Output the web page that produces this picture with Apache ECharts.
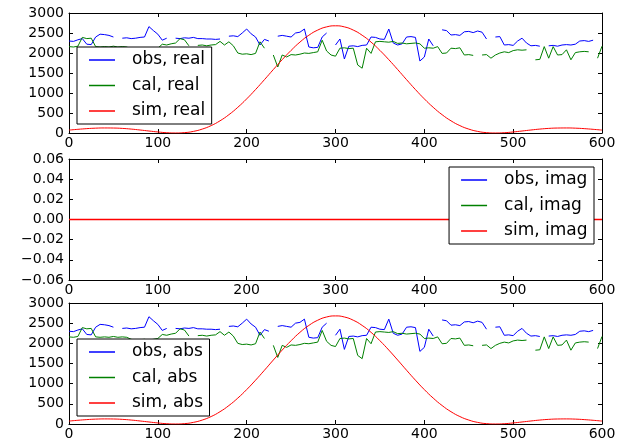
<!DOCTYPE html>
<html>
<head>
<meta charset="utf-8">
<script src="https://cdn.jsdelivr.net/npm/echarts@6/dist/echarts.min.js"></script>
<style>
html,body{margin:0;padding:0;background:#fff;}
#chart{width:621px;height:448px;}
</style>
</head>
<body>
<div id="chart"></div>
<script>
// x grid for obs / cal samples (step 5, 0..600)
const obsCalStep = 5;
const obsValues = [
  2300,2290,2330,2360,2220,2210,2400,2470,2460,2440,2400,null,
  2370,2380,2360,2370,2390,2400,2660,2560,2470,2320,2370,null,
  2370,2360,2380,2370,2390,2360,2360,2350,2350,2340,2350,null,
  2420,2430,2410,2500,2600,2480,2400,2200,2340,2300,null,2420,
  2440,2420,2400,2500,2520,2600,2150,2130,2140,2400,2500,null,
  2200,2350,1850,2170,2180,2160,2190,2200,2400,2390,2350,2340,
  2600,2250,2200,2230,2400,2410,2390,1800,1900,2350,2180,null,
  2580,2560,2450,2460,2440,2530,2540,2510,2550,2520,2350,null,
  2400,2410,2200,2210,2190,2300,2370,2250,2180,2190,2170,null,
  2180,2190,2170,2200,2210,2200,2220,2300,2310,2290,2320,null,null
];
const calValues = [
  2160,2150,2170,2390,2360,2370,2160,2150,2160,2150,2170,2150,
  2160,2150,2100,2080,2090,2100,2080,2100,2120,2220,2200,2230,
  2250,2360,2330,2180,null,2190,2200,2180,2200,2210,2290,2200,
  2280,2180,2000,1970,1980,1960,1990,2280,2120,null,1950,1650,
  1950,1900,1960,1950,1970,2000,1990,2010,2030,2320,2050,1950,
  1920,2120,2130,2110,2120,1700,1620,2120,1990,2280,2290,2280,
  2270,2290,2240,2250,2230,2240,2250,2230,2120,2130,2120,2160,
  1990,2000,2120,2110,2130,1950,1960,1940,null,1950,1960,1870,
  1950,2000,2030,2010,2060,2080,2070,2080,null,1830,1840,2160,
  1870,2160,1950,1960,2080,1830,2010,2030,2040,2030,null,1870,2170
];
// sim samples (step 10, 0..600)
const simStep = 10;
const simValues = [
  73,92,109,121,126,124,115,98,75,50,26,7,0,9,40,98,185,305,458,642,853,
  1086,1333,1586,1833,2065,2273,2444,2573,2653,2680,2653,2573,2444,2273,2065,
  1833,1586,1333,1086,853,642,458,305,185,98,40,9,0,7,26,50,75,98,115,124,
  126,121,109,92,73
];
// imaginary parts (all zero)
const imagX = [0,100,200,300,400,500,600];
const obsImag = [0,0,0,0,0,0,0];
const calImag = [0,0,0,0,0,0,0];
const simImag = [0,0,0,0,0,0,0];

const xTicks = [0,100,200,300,400,500,600];
const absTicks = [0,500,1000,1500,2000,2500,3000];
const imagTicks = [-0.06,-0.04,-0.02,0,0.02,0.04,0.06];

function pairs(step, vals){ return vals.map((v,i)=>[i*step, v===null?'-':v]); }
function pairsX(xs, vals){ return vals.map((v,i)=>[xs[i], v]); }

const FONT = 'DejaVu Sans';
const grids = [
  {left:69, top:13, width:533, height:120},
  {left:69, top:159, width:533, height:121},
  {left:69, top:303, width:533, height:121}
];

const xAxes = [], yAxes = [];
grids.forEach((g,i)=>{
  const base = {
    type:'value', gridIndex:i, min:xTicks[0], max:xTicks[xTicks.length-1], interval:xTicks[1]-xTicks[0],
    splitLine:{show:false},
    axisLine:{show:true, onZero:false, lineStyle:{color:'#000', width:1}},
    axisTick:{show:true, inside:true, length:4, lineStyle:{color:'#000'}}
  };
  xAxes.push(Object.assign({}, base, {position:'bottom',
    axisLabel:{show:true, color:'#000', fontFamily:FONT, fontSize:14, margin:3, showMinLabel:true, showMaxLabel:true,
      formatter:function(v){return String(v);}}}));
  xAxes.push(Object.assign({}, base, {position:'top', axisLabel:{show:false}}));
  const ticks = i===1 ? imagTicks : absTicks;
  const ybase = {
    type:'value', gridIndex:i, min:ticks[0], max:ticks[ticks.length-1], interval:ticks[1]-ticks[0],
    splitLine:{show:false},
    axisLine:{show:true, onZero:false, lineStyle:{color:'#000', width:1}},
    axisTick:{show:true, inside:true, length:4, lineStyle:{color:'#000'}}
  };
  yAxes.push(Object.assign({}, ybase, {position:'left',
    axisLabel:{show:true, color:'#000', fontFamily:FONT, fontSize:14, margin:5, showMinLabel:true, showMaxLabel:true,
      formatter: i===1 ? function(v){ if(Math.abs(v)<1e-9) return '0.00'; return (v<0?'\u2212':'')+Math.abs(v).toFixed(2);}
                       : function(v){ return String(v); }}}));
  yAxes.push(Object.assign({}, ybase, {position:'right', axisLabel:{show:false}}));
});

const colors = {obs:'#0000ff', cal:'#008000', sim:'#ff0000'};
function line(name, color, data, gi, smooth, z, w){
  return {name:name, type:'line', xAxisIndex:gi*2, yAxisIndex:gi*2, data:data,
    showSymbol:false, symbol:'none', smooth:smooth||false, connectNulls:false, z:z||2,
    lineStyle:{color:color, width:w||1}, itemStyle:{color:color}, animation:false};
}

const series = [
  line('obs, real', colors.obs, pairs(obsCalStep, obsValues), 0),
  line('cal, real', colors.cal, pairs(obsCalStep, calValues), 0),
  line('sim, real', colors.sim, pairs(simStep, simValues), 0, true),
  line('obs, imag', colors.obs, pairsX(imagX, obsImag), 1, false, 2, 1),
  line('cal, imag', colors.cal, pairsX(imagX, calImag), 1, false, 3, 1),
  line('sim, imag', colors.sim, pairsX(imagX, simImag), 1, false, 4, 1.6),
  line('obs, abs', colors.obs, pairs(obsCalStep, obsValues), 2),
  line('cal, abs', colors.cal, pairs(obsCalStep, calValues), 2),
  line('sim, abs', colors.sim, pairs(simStep, simValues), 2, true)
];

function legend(names, pos){
  return Object.assign({
    data:names.map(n=>({name:n, icon:'rect'})),
    orient:'vertical', itemWidth:26, itemHeight:1.5, itemGap:8.5,
    padding:[4.5,6.5,4.5,12], borderColor:'#000', borderWidth:1, backgroundColor:'#fff',
    selectedMode:false, z:10,
    textStyle:{fontFamily:FONT, fontSize:17, color:'#000', lineHeight:17, padding:[0,0,0,12]}
  }, pos);
}

const chart = echarts.init(document.getElementById('chart'), null, {renderer:'canvas'});
chart.setOption({
  backgroundColor:'#fff',
  animation:false,
  grid:grids,
  xAxis:xAxes,
  yAxis:yAxes,
  legend:[
    legend(['obs, real','cal, real','sim, real'], {left:77, top:47}),
    legend(['obs, imag','cal, imag','sim, imag'], {right:27, top:167}),
    legend(['obs, abs','cal, abs','sim, abs'], {left:77, top:339})
  ],
  series:series
});
</script>
</body>
</html>
